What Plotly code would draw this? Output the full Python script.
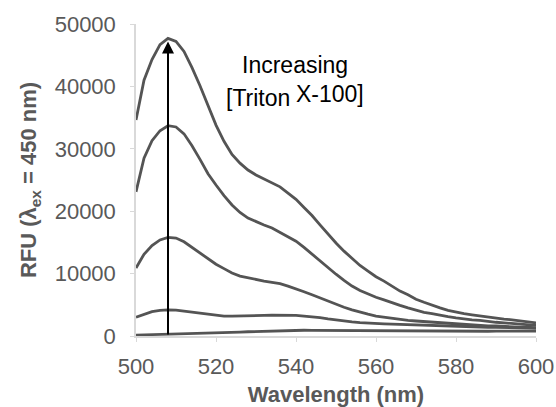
import plotly.graph_objects as go

wavelength = list(range(500, 601, 2))

rfu_1 = [34600, 41000, 44300, 46700, 47700, 47200, 45600, 43000, 40100, 37000,
         33800, 31200, 29100, 27700, 26600, 25800, 25200, 24500, 23900, 22900,
         21900, 20600, 19300, 17800, 16300, 14900, 13600, 12400, 11300, 10400,
         9500, 8800, 8000, 7200, 6600, 5900, 5400, 4900, 4500, 4100,
         3800, 3600, 3400, 3200, 3000, 2900, 2700, 2600, 2400, 2300, 2100]
rfu_2 = [23100, 28500, 31300, 32900, 33700, 33500, 32400, 30500, 28300, 26000,
         24200, 22500, 21000, 19800, 18900, 18300, 17800, 17300, 16600, 15900,
         15200, 14200, 13100, 12100, 11000, 9900, 8900, 8000, 7300, 6700,
         6200, 5800, 5300, 4900, 4500, 4100, 3800, 3600, 3300, 3100,
         2900, 2700, 2600, 2500, 2300, 2200, 2100, 2000, 1900, 1800, 1700]
rfu_3 = [10900, 13100, 14500, 15400, 15800, 15700, 15100, 14200, 13300, 12400,
         11500, 10800, 10100, 9600, 9300, 9000, 8800, 8600, 8400, 8000,
         7600, 7100, 6600, 6100, 5500, 5000, 4600, 4200, 3800, 3500,
         3200, 3000, 2800, 2600, 2500, 2400, 2300, 2200, 2100, 2000,
         1900, 1800, 1800, 1700, 1600, 1600, 1500, 1500, 1400, 1400, 1300]
rfu_4 = [3000, 3500, 3900, 4100, 4200, 4150, 4000, 3800, 3600, 3450,
         3300, 3200, 3200, 3200, 3250, 3300, 3300, 3350, 3350, 3350,
         3300, 3200, 3100, 2950, 2750, 2550, 2400, 2250, 2150, 2050,
         2000, 1950, 1900, 1850, 1800, 1750, 1700, 1650, 1600, 1550,
         1500, 1480, 1450, 1420, 1400, 1380, 1350, 1320, 1300, 1280, 1250]
rfu_5 = [150, 180, 200, 230, 260, 290, 320, 350, 390, 430,
         480, 530, 580, 630, 680, 730, 780, 830, 870, 900,
         920, 920, 910, 900, 880, 860, 840, 820, 800, 790,
         780, 770, 760, 750, 750, 740, 740, 740, 740, 740,
         750, 750, 750, 760, 760, 770, 770, 780, 780, 790, 800]

series = [rfu_1, rfu_2, rfu_3, rfu_4, rfu_5]

arrow_x = 508
arrow_y0 = 0
arrow_y1 = 47200

x_ticks = [500, 520, 540, 560, 580, 600]
y_ticks = [0, 10000, 20000, 30000, 40000, 50000]
y_ticktext = ["0", "10000", "20000", "30000", "40000", "50000"]

fig = go.Figure()
for s in series:
    fig.add_trace(go.Scatter(x=wavelength, y=s, mode="lines",
                             line=dict(color="#545454", width=2.8),
                             showlegend=False, hoverinfo="skip"))

fig.add_annotation(x=arrow_x, y=arrow_y1, ax=arrow_x, ay=arrow_y0,
                   xref="x", yref="y", axref="x", ayref="y",
                   showarrow=True, arrowhead=2, arrowsize=1.2, arrowwidth=2,
                   arrowcolor="black", text="")
ann_font = dict(family="Liberation Sans", size=23, color="black")
fig.add_annotation(x=539.8, y=43400, xref="x", yref="y", text="Increasing",
                   showarrow=False, font=ann_font)
fig.add_annotation(x=538.9, y=38200, xref="x", yref="y", text="[Triton",
                   xanchor="right", showarrow=False, font=ann_font)
fig.add_annotation(x=539.5, y=38200, xref="x", yref="y", text="X-100]",
                   xanchor="left", yshift=4, showarrow=False, font=ann_font)

axis_font = dict(family="Liberation Sans", size=22, color="#595959")
title_font = dict(family="Liberation Sans", size=22, color="#595959")

fig.update_layout(
    width=556, height=407,
    margin=dict(l=136, r=20, t=24, b=71),
    paper_bgcolor="white", plot_bgcolor="white",
    font=dict(family="Liberation Sans"),
    xaxis=dict(range=[500, 600], tickvals=x_ticks, showgrid=False, zeroline=False,
               showline=True, linecolor="#d9d9d9", linewidth=1.5,
               ticks="outside", ticklen=4, tickcolor="#d9d9d9",
               tickfont=axis_font, ticklabelstandoff=6, automargin=False,
               title=dict(text="<b>Wavelength (nm)</b>", font=title_font, standoff=12)),
    yaxis=dict(range=[0, 50000], tickvals=y_ticks, ticktext=y_ticktext,
               showgrid=False, zeroline=False,
               showline=True, linecolor="#d9d9d9", linewidth=1.5,
               ticks="outside", ticklen=4, tickcolor="#d9d9d9",
               tickfont=axis_font, ticklabelstandoff=10, automargin=False,
               title=dict(text="<b>RFU (λ<sub>ex</sub> = 450 nm)</b>", font=title_font, standoff=12)),
)

fig.write_html("out.html")
